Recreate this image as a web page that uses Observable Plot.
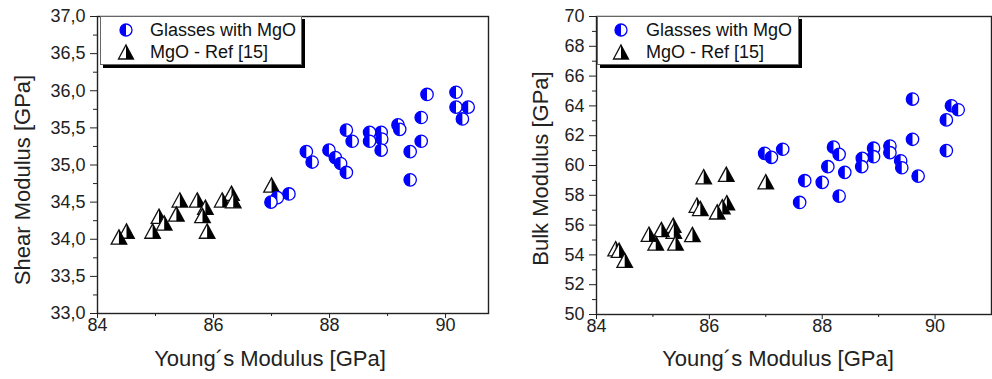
<!DOCTYPE html>
<html><head><meta charset="utf-8">
<script src="https://cdn.jsdelivr.net/npm/d3@7"></script>
<script src="https://cdn.jsdelivr.net/npm/@observablehq/plot@0.6"></script>
<style>
body{margin:0;background:#fff;font-family:"Liberation Sans",Arial,sans-serif;}
#wrap{position:relative;width:992px;height:379px;overflow:hidden;}
#wrap svg.plot{position:absolute;top:0;}
.legend{position:absolute;top:16px;height:49px;box-sizing:border-box;border:1px solid #666;background:#fff;box-shadow:3px 3px 0 #000;font-size:18px;color:#111;}
.legend .row{position:absolute;left:0;height:20px;line-height:20px;white-space:nowrap;}
.legend .row svg{position:absolute;top:1px;}
.legend .row span{position:absolute;top:0;}
</style></head><body><div id="wrap"></div>
<script>
// ---- Data: left panel (Young's modulus vs Shear modulus) ----
const shearGlassE = [89.68,90.18,90.18,90.39,90.29,89.58,89.58,89.39,89.39,89.18,89.21,88.89,88.90,88.89,88.69,88.69,88.29,88.39,87.99,88.10,88.19,88.29,87.60,87.70,87.30,87.10,86.99];
const shearGlassG = [35.95,35.98,35.78,35.78,35.62,35.64,35.32,35.18,34.80,35.54,35.48,35.44,35.35,35.20,35.44,35.32,35.47,35.32,35.20,35.10,35.02,34.90,35.18,35.04,34.61,34.56,34.50];
const shearRefE = [87.00,86.31,86.15,86.34,85.72,85.42,85.86,85.81,85.36,85.06,85.15,84.95,85.89,84.50,84.37];
const shearRefG = [34.73,34.62,34.53,34.52,34.53,34.53,34.43,34.32,34.34,34.31,34.22,34.11,34.11,34.11,34.03];
// ---- Data: right panel (Young's modulus vs Bulk modulus) ----
const bulkGlassE = [89.60,90.29,90.41,90.20,90.20,89.60,89.70,89.39,89.41,89.20,89.20,88.91,88.91,88.71,88.70,88.40,88.20,88.30,88.10,88.00,88.30,87.69,87.60,87.30,86.98,87.10];
const bulkGlassK = [64.46,64.01,63.74,63.06,61.00,61.76,59.29,60.32,59.85,61.31,60.86,61.16,60.59,60.48,59.92,59.54,61.23,60.75,59.92,58.87,57.95,58.98,57.52,61.09,60.82,60.55];
const bulkRefE = [87.00,85.90,86.30,85.78,85.84,86.31,86.23,86.14,85.70,85.36,85.37,85.15,85.40,85.05,84.93,84.34,84.40,84.50];
const bulkRefK = [58.91,59.25,59.41,57.34,57.12,57.50,57.23,56.89,55.37,55.99,55.59,55.70,54.80,54.80,55.39,54.42,54.31,53.64];
// ---- Tick values / labels ----
const xMajor = [84, 86, 88, 90];
const xMinor = [85, 87, 89];
const shearMajor = [33, 33.5, 34, 34.5, 35, 35.5, 36, 36.5, 37];
const shearMinor = [33.25, 33.75, 34.25, 34.75, 35.25, 35.75, 36.25, 36.75];
const bulkMajor = [50, 52, 54, 56, 58, 60, 62, 64, 66, 68, 70];
const bulkMinor = [51, 53, 55, 57, 59, 61, 63, 65, 67, 69];
const seriesNames = ["Glasses with MgO", "MgO - Ref [15]"];
const xTitle = "Young´s Modulus [GPa]";
const shearTitle = "Shear Modulus [GPa]";
const bulkTitle = "Bulk Modulus [GPa]";

const BLUE = "#0000ff";
const circleFull = {draw(c, size){const r = Math.sqrt(size/Math.PI); c.moveTo(r,0); c.arc(0,0,r,0,2*Math.PI); c.closePath();}};
const circleLeft = {draw(c, size){const r = Math.sqrt(size/Math.PI); c.moveTo(0,-r); c.arc(0,0,r,-Math.PI/2,Math.PI/2,true); c.closePath();}};
const triFull = {draw(c, size){const s = Math.sqrt(size/Math.PI); const w = s*1.2, h = s*1.1; c.moveTo(0,-h); c.lineTo(w,h); c.lineTo(-w,h); c.closePath();}};
const triRight = {draw(c, size){const s = Math.sqrt(size/Math.PI); const w = s*1.2, h = s*1.1; c.moveTo(0,-h); c.lineTo(w,h); c.lineTo(0,h); c.closePath();}};

function rows(xs, ys){ return xs.map((x,i) => ({x, y: ys[i]})); }

function makePlot(o){
  const glass = rows(o.gE, o.gY), ref = rows(o.rE, o.rY);
  const marks = [
    Plot.axisX(xMajor, {tickSize:5, tickPadding:0, fontSize:18, label:null, stroke:"#222", fill:"#222"}),
    Plot.axisX(xMinor, {tickSize:3, tickFormat:() => "", label:null, stroke:"#222"}),
    Plot.axisY(o.yMajor, {tickSize:7, tickPadding:5, fontSize:18, tickFormat:o.fmt, label:null, stroke:"#222", fill:"#222"}),
    Plot.axisY(o.yMinor, {tickSize:4, tickFormat:() => "", label:null, stroke:"#222"}),
  ];
  for (const d of ref) {
    marks.push(Plot.dot([d], {x:"x", y:"y", symbol:triFull, r:6.5, fill:"white", stroke:"#111", strokeWidth:1.3}));
    marks.push(Plot.dot([d], {x:"x", y:"y", symbol:triRight, r:6.5, fill:"#000", stroke:"none"}));
  }
  for (const d of glass) {
    marks.push(Plot.dot([d], {x:"x", y:"y", symbol:circleFull, r:6.2, fill:"white", stroke:BLUE, strokeWidth:1.3}));
    marks.push(Plot.dot([d], {x:"x", y:"y", symbol:circleLeft, r:6.2, fill:BLUE, stroke:"none"}));
  }
  marks.push(Plot.frame({stroke:"#222", strokeWidth:1.4}));
  marks.push(Plot.text([xTitle], {frameAnchor:"bottom", textAnchor:"middle", lineAnchor:"middle", dx:o.xdx, dy:o.xdy, fontSize:22, fill:"#222"}));
  marks.push(Plot.text([o.yTitle], {frameAnchor:"left", textAnchor:"middle", lineAnchor:"middle", rotate:-90, dx:o.ydx, dy:o.ydy, fontSize:22, fill:"#222"}));
  const p = Plot.plot({
    width: 496, height: 379,
    marginLeft: o.ml, marginRight: o.mr, marginTop: 16, marginBottom: o.mb,
    style: {fontFamily: "'Liberation Sans', Arial, sans-serif", fontSize: "18px", background: "white", color: "#222", overflow: "visible"},
    x: {domain: o.xDomain, axis: null},
    y: {domain: o.yDomain, axis: null},
    marks
  });
  p.classList.add("plot");
  p.style.left = o.left + "px";
  return p;
}

const fmt1 = d => d.toFixed(1).replace(".", ",");
const wrap = document.getElementById("wrap");
wrap.appendChild(makePlot({left:0, ml:97, mr:8, mb:66, xDomain:[84, 90.74], yDomain:[33, 37], yMajor:shearMajor, yMinor:shearMinor, fmt:fmt1,
  gE:shearGlassE, gY:shearGlassG, rE:shearRefE, rY:shearRefG, yTitle:shearTitle, xdx:-23, xdy:45, ydx:-75, ydy:15}));
wrap.appendChild(makePlot({left:496, ml:100, mr:1, mb:65, xDomain:[84, 91], yDomain:[50, 70], yMajor:bulkMajor, yMinor:bulkMinor, fmt:d => String(d),
  gE:bulkGlassE, gY:bulkGlassK, rE:bulkRefE, rY:bulkRefK, yTitle:bulkTitle, xdx:-16, xdy:44, ydx:-56, ydy:3}));

function legend(left, width, markX, textX){
  const L = document.createElement("div");
  L.className = "legend";
  L.style.left = left + "px";
  L.style.width = width + "px";
  const circ = `<svg width="16" height="18" style="left:${markX-8}px"><circle cx="8" cy="9" r="6" fill="white" stroke="${BLUE}" stroke-width="1.3"/><path d="M8,3 A6,6 0 0 0 8,15 Z" fill="${BLUE}"/></svg>`;
  const tri = `<svg width="18" height="18" style="left:${markX-9}px"><path d="M9,2 L16.5,16 L1.5,16 Z" fill="white" stroke="#111" stroke-width="1.3"/><path d="M9,2 L16.5,16 L9,16 Z" fill="#000"/></svg>`;
  L.innerHTML = `<div class="row" style="top:3px">${circ}<span style="left:${textX}px">${seriesNames[0]}</span></div>` +
                `<div class="row" style="top:25px">${tri}<span style="left:${textX}px">${seriesNames[1]}</span></div>`;
  wrap.appendChild(L);
}
legend(100, 202, 25, 49);
legend(597, 202, 23, 48);
</script>
</body></html>
